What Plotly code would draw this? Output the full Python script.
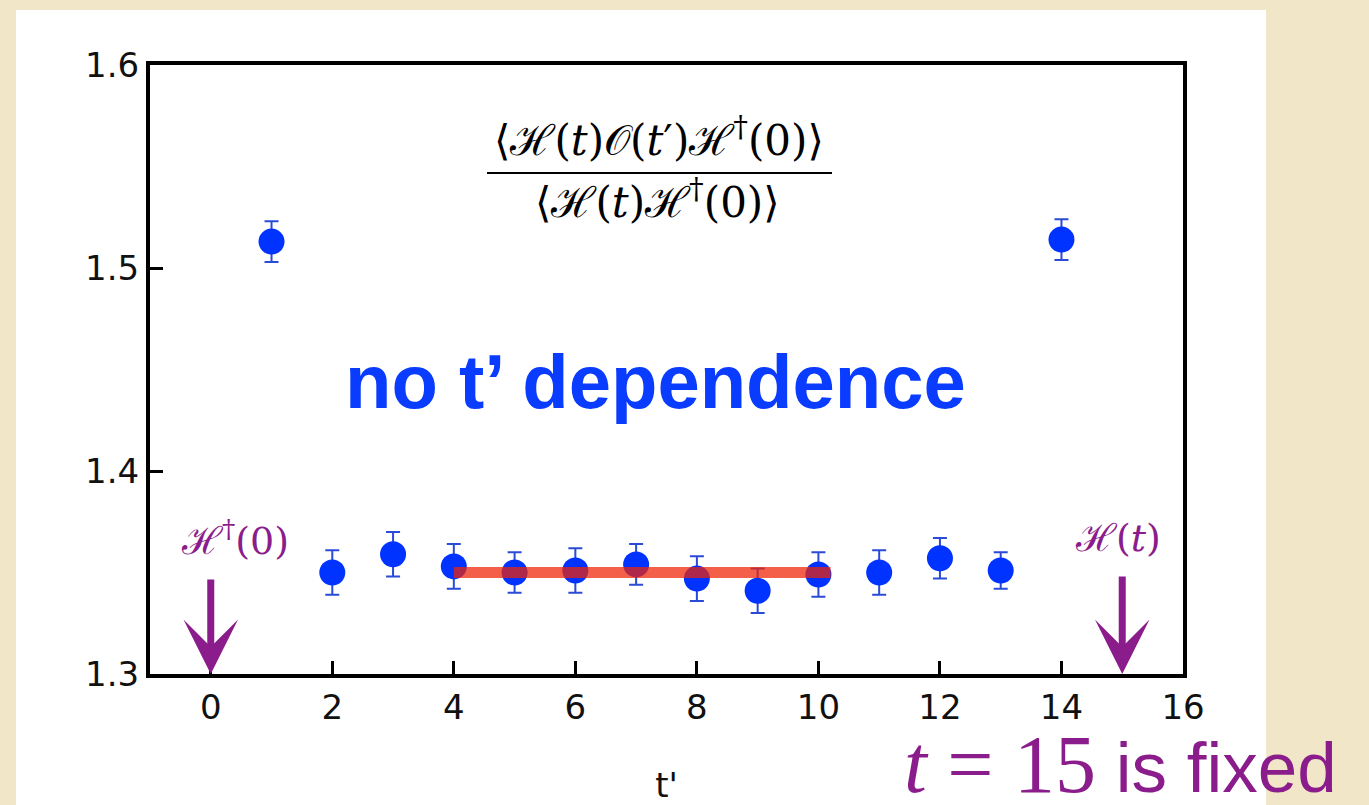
import plotly.graph_objects as go

# ---- data ----
t_prime = [1, 2, 3, 4, 5, 6, 7, 8, 9, 10, 11, 12, 13, 14]
ratio = [1.513, 1.350, 1.359, 1.353, 1.350, 1.351, 1.354, 1.347, 1.341, 1.349, 1.350, 1.357, 1.351, 1.514]
ratio_err = [0.010, 0.011, 0.011, 0.011, 0.010, 0.011, 0.010, 0.011, 0.011, 0.011, 0.011, 0.010, 0.009, 0.010]
fit_x = [4, 10.2]
fit_y = [1.35, 1.35]
x_ticks = [0, 2, 4, 6, 8, 10, 12, 14, 16]
y_ticks = [1.3, 1.4, 1.5, 1.6]
source_t = 0
sink_t = 15

PURPLE = "#8b1c8b"
BLUE = "#0033ff"

fig = go.Figure()
fig.add_trace(go.Scatter(
    x=t_prime, y=ratio, mode="markers",
    marker=dict(size=26, color=BLUE, line=dict(width=0)),
    error_y=dict(type="data", array=ratio_err, visible=True,
                 color="#2a4bd7", thickness=2, width=7),
    showlegend=False,
))
fig.add_trace(go.Scatter(
    x=fit_x, y=fit_y, mode="lines",
    line=dict(color="rgba(240,36,5,0.73)", width=11),
    showlegend=False,
))

axis_common = dict(
    showline=True, linecolor="black", linewidth=4, mirror=True,
    ticks="inside", ticklen=13, tickwidth=3, tickcolor="black",
    showgrid=False, zeroline=False,
    tickfont=dict(family="DejaVu Sans", size=34, color="#111111"),
)
fig.update_xaxes(range=[-1, 16], tickvals=x_ticks, ticktext=[str(v) for v in x_ticks],
                 title=dict(text="t'", font=dict(family="DejaVu Sans", size=34, color="#111111"), standoff=50),
                 **axis_common)
fig.update_yaxes(range=[1.3, 1.6], tickvals=y_ticks, ticktext=[f"{v:.1f}" for v in y_ticks],
                 **axis_common)

L, R, T, B = 150, 186, 65, 131
W, H = 1369, 805
pw, ph = W - L - R, H - T - B

def px(x):
    return (x - L) / pw

def py(y):
    return (H - B - y) / ph

shapes = [
    dict(type="rect", xref="paper", yref="paper", x0=px(16), x1=px(1266), y0=py(810), y1=py(10),
         fillcolor="white", line=dict(width=0), layer="below"),
    dict(type="line", xref="paper", yref="paper", x0=px(487), x1=px(832), y0=py(173), y1=py(173),
         line=dict(color="black", width=2)),
]

def label(text, x, y, size, color, family):
    return dict(text=text, xref="paper", yref="paper", x=px(x), y=py(y),
                xanchor="center", yanchor="middle", showarrow=False,
                font=dict(family=family, size=size, color=color))

annotations = [
    label("⟨ℋ(<i>t</i>)𝒪(<i>t</i>′)ℋ<sup>†</sup>(0)⟩", 659, 138, 42, "black", "DejaVu Serif"),
    label("⟨ℋ(<i>t</i>)ℋ<sup>†</sup>(0)⟩", 657, 200, 42, "black", "DejaVu Serif"),
    label("<b>no t’ dependence</b>", 655, 382, 76, "#0a3cff", "Liberation Sans"),
    label("ℋ<sup>†</sup>(0)", 235, 538, 38, PURPLE, "DejaVu Serif"),
    label("ℋ(<i>t</i>)", 1118, 538, 38, PURPLE, "DejaVu Serif"),
    label("<span style='font-family:Liberation Serif;font-size:82px'><i>t</i> = 15</span> is fixed",
          1120, 764, 71, PURPLE, "Liberation Sans"),
    # arrows
    dict(x=source_t, y=1.3, ax=source_t, ay=1.3473, xref="x", yref="y", axref="x", ayref="y",
         text="", showarrow=True, arrowhead=3, arrowsize=1.3, arrowwidth=7, arrowcolor=PURPLE,
         standoff=0),
    dict(x=sink_t, y=1.3, ax=sink_t, ay=1.3488, xref="x", yref="y", axref="x", ayref="y",
         text="", showarrow=True, arrowhead=3, arrowsize=1.3, arrowwidth=7, arrowcolor=PURPLE,
         standoff=0),
]

fig.update_layout(
    width=W, height=H,
    margin=dict(l=L, r=R, t=T, b=B, autoexpand=False),
    paper_bgcolor="#f1e6c8",
    plot_bgcolor="white",
    shapes=shapes,
    annotations=annotations,
)

fig.write_html("out.html", config={"displayModeBar": False},
               post_script="document.body.style.margin='0px';")
